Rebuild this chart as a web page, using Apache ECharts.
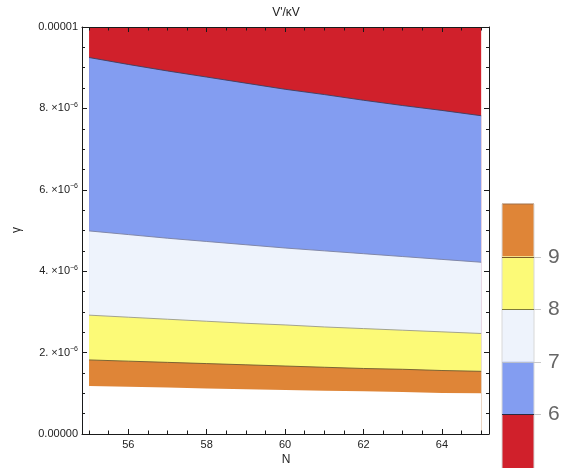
<!DOCTYPE html>
<html><head><meta charset="utf-8">
<script src="https://cdn.jsdelivr.net/npm/echarts@6/dist/echarts.min.js"></script>
<style>html,body{margin:0;padding:0;background:#fff}#c{width:567px;height:468px}</style>
</head><body><div id="c"></div><script>
// N values (x) and contour boundaries of V'/κV, gamma in units of 1e-6
const N      = [55, 56, 57, 58, 59, 60, 61, 62, 63, 64, 65];
const topEdge= [10, 10, 10, 10, 10, 10, 10, 10, 10, 10, 10];
const b6     = [9.25, 9.08, 8.92, 8.77, 8.62, 8.47, 8.34, 8.20, 8.07, 7.95, 7.82];
const b7     = [4.99, 4.90, 4.81, 4.73, 4.65, 4.57, 4.50, 4.43, 4.36, 4.29, 4.22];
const b8     = [2.92, 2.87, 2.82, 2.77, 2.72, 2.68, 2.63, 2.59, 2.55, 2.51, 2.47];
const b9     = [1.82, 1.79, 1.76, 1.73, 1.70, 1.67, 1.64, 1.61, 1.59, 1.56, 1.54];
const b10    = [1.18, 1.16, 1.14, 1.12, 1.10, 1.08, 1.06, 1.05, 1.03, 1.01, 1.00];
const xMajorTicks = [56, 58, 60, 62, 64];
const xMinorTicks = [55, 55.5, 56, 56.5, 57, 57.5, 58, 58.5, 59, 59.5, 60, 60.5, 61, 61.5, 62, 62.5, 63, 63.5, 64, 64.5, 65];
const yTickMantissa = {2: '2.', 4: '4.', 6: '6.', 8: '8.'};
const yTickEnds = {0: '0.00000', 10: '0.00001'};
const legendLabels = ['9', '8', '7', '6'];

const C = {red:'#D0202B', blue:'#839DF1', light:'#EEF3FC', yellow:'#FCFA77', orange:'#DF8537'};
const FONT = 'Liberation Sans, Arial, sans-serif';
const AX = '#1a1a1a';

function mk(s) { return N.map((n, i) => [n, s[i]]); }
function area(name, s, fill, lineColor) {
  return {
    type: 'line', name, data: mk(s), showSymbol: false, symbol: 'none',
    xAxisIndex: 0, yAxisIndex: 0, z: 2,
    lineStyle: lineColor ? {color: lineColor, width: 0.9} : {width: 0},
    areaStyle: {color: fill, opacity: 1, origin: 'start'},
    emphasis: {disabled: true}, silent: true
  };
}

const xBase = {type: 'value', min: 54.82, max: 65.2, gridIndex: 0, z: 10,
  splitLine: {show: false}};
function xAx(pos, ticks, len, labels, line) {
  return Object.assign({}, xBase, {
    position: pos,
    axisLine: {show: line, onZero: false, lineStyle: {color: AX, width: 1}},
    axisTick: {show: true, inside: true, length: len, customValues: ticks, lineStyle: {color: AX}},
    axisLabel: labels ? {show: true, customValues: xMajorTicks, fontSize: 11, color: '#222', fontFamily: FONT, margin: 5}
                      : {show: false}
  });
}
function yAx(pos, labels) {
  return {
    type: 'value', min: 0, max: 10, interval: 2, position: pos, z: 10,
    splitLine: {show: false}, minorSplitLine: {show: false},
    axisLine: {show: true, onZero: false, lineStyle: {color: AX, width: 1}},
    axisTick: {show: true, inside: true, length: 5, lineStyle: {color: AX}},
    minorTick: {show: true, splitNumber: 4, length: 3, lineStyle: {color: AX}},
    axisLabel: labels ? {
      show: true, margin: 4, fontFamily: FONT, fontSize: 11, color: '#222',
      formatter: v => {
        const k = Math.round(v);
        if (yTickEnds[k] !== undefined) return '{n|' + yTickEnds[k] + '}';
        return '{n|' + yTickMantissa[k] + ' \u00d710}{s|\u22126}';
      },
      rich: {
        n: {fontSize: 11, fontFamily: FONT, color: '#222'},
        s: {fontSize: 7, fontFamily: FONT, color: '#222', padding: [0, 0, 7, 0]}
      }
    } : {show: false}
  };
}

// colorbar
const barX = 502, barW = 32, barTop = 204, band = 52.6;
const barColors = [C.orange, C.yellow, C.light, C.blue, C.red];
const sepColors = ['#7a5a2a', '#7d7a3a', '#b9bfcc', '#2a2a40'];
const graphics = [];
barColors.forEach((col, i) => {
  graphics.push({type: 'rect', shape: {x: barX, y: barTop + i * band, width: barW, height: band + (i === 4 ? 10 : 0)},
    style: {fill: col, stroke: null}});
});
graphics.push({type: 'line', shape: {x1: barX, y1: barTop, x2: barX + barW, y2: barTop}, style: {stroke: '#a0704a', lineWidth: 1}});
graphics.push({type: 'line', shape: {x1: barX, y1: barTop, x2: barX, y2: 468}, style: {stroke: '#d8d8d8', lineWidth: 1}});
graphics.push({type: 'line', shape: {x1: barX + barW, y1: barTop, x2: barX + barW, y2: 468}, style: {stroke: '#d8d8d8', lineWidth: 1}});
sepColors.forEach((col, i) => {
  const y = Math.round(barTop + (i + 1) * band) + 0.5;
  graphics.push({type: 'line', shape: {x1: barX, y1: y, x2: barX + barW, y2: y}, style: {stroke: col, lineWidth: 1}});
  graphics.push({type: 'line', shape: {x1: barX + barW, y1: y, x2: barX + barW + 7, y2: y}, style: {stroke: '#c8c8c8', lineWidth: 1}});
  graphics.push({type: 'text', x: 548, y: y, style: {text: legendLabels[i], fontSize: 21, fontFamily: FONT,
    fill: '#666', textAlign: 'left', textVerticalAlign: 'middle'}});
});
graphics.push({type: 'text', x: 286, y: 13, style: {text: "V'/\u03baV", fontSize: 12, fontFamily: FONT, fill: '#222', textAlign: 'center', textVerticalAlign: 'middle'}});
graphics.push({type: 'text', x: 286, y: 460, style: {text: 'N', fontSize: 12, fontFamily: FONT, fill: '#222', textAlign: 'center', textVerticalAlign: 'middle'}});
graphics.push({type: 'text', x: 17, y: 230, rotation: Math.PI / 2, style: {text: '\u03b3', fontSize: 12, fontFamily: FONT, fill: '#222', textAlign: 'center', textVerticalAlign: 'middle'}});

const chart = echarts.init(document.getElementById('c'), null, {renderer: 'canvas'});
chart.setOption({
  animation: false,
  backgroundColor: '#fff',
  grid: {left: 82, right: 78, top: 27, bottom: 34, containLabel: false},
  xAxis: [
    xAx('bottom', xMajorTicks, 5, true, true),
    xAx('bottom', xMinorTicks, 3.5, false, false),
    xAx('top', xMajorTicks, 5, false, true),
    xAx('top', xMinorTicks, 3.5, false, false)
  ],
  yAxis: [yAx('left', true), yAx('right', false)],
  series: [
    area('lt6', topEdge, C.red, null),
    area('6-7', b6, C.blue, '#3b3f60'),
    area('7-8', b7, C.light, '#7a80a0'),
    area('8-9', b8, C.yellow, '#9a9a88'),
    area('9-10', b9, C.orange, '#6e5a30'),
    area('gt10', b10, '#ffffff', null)
  ],
  graphic: graphics
});
</script></body></html>
